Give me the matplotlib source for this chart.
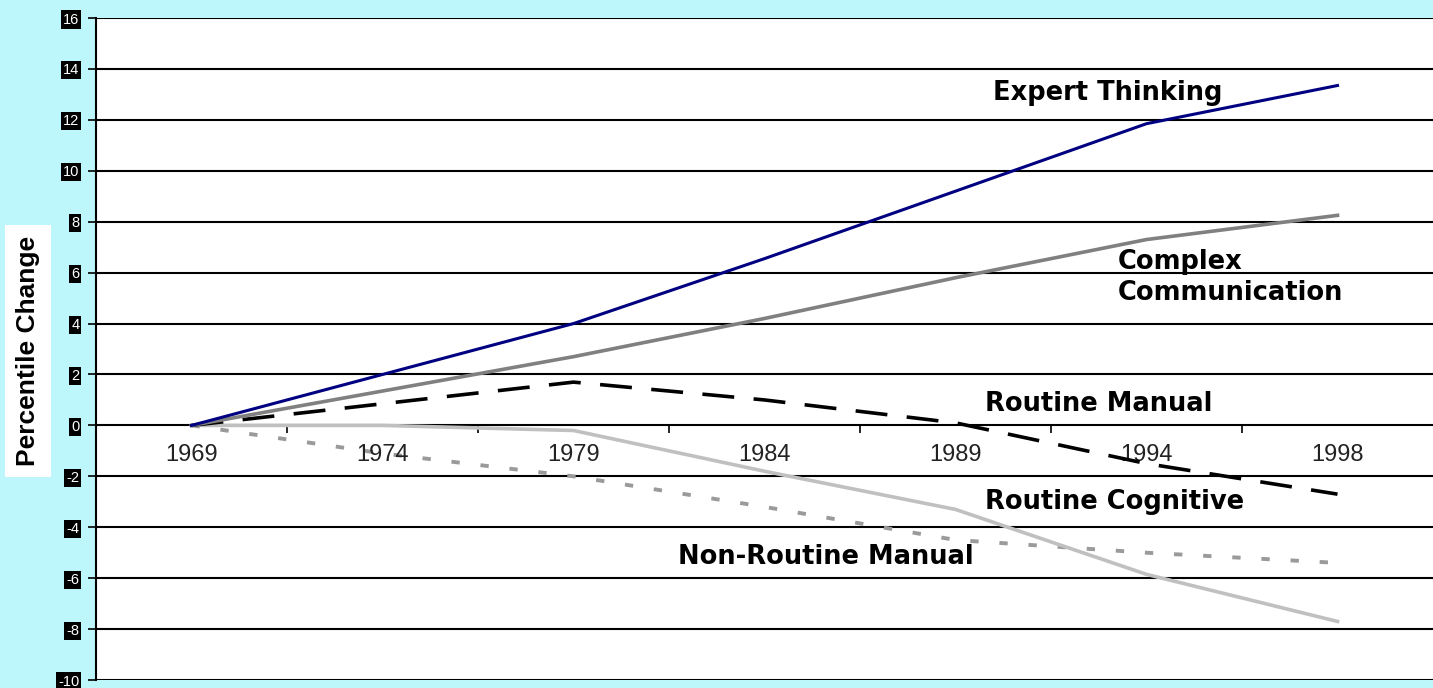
import matplotlib
matplotlib.use("Agg")
import matplotlib.pyplot as plt
from matplotlib.ticker import FixedLocator

plt.rcParams['font.family'] = ['Liberation Sans', 'DejaVu Sans']
plt.rcParams['lines.scale_dashes'] = False

years = ['1969', '1974', '1979', '1984', '1989', '1994', '1998']
expert_thinking = [0, 2.0, 4.0, 6.55, 9.2, 11.85, 13.35]
complex_comm = [0, 1.35, 2.7, 4.2, 5.8, 7.3, 8.25]
routine_manual = [0, 0.85, 1.7, 1.0, 0.1, -1.5, -2.7]
routine_cognitive = [0, 0.0, -0.2, -1.8, -3.3, -5.85, -7.7]
nonroutine_manual = [0, -1.1, -2.0, -3.2, -4.5, -5.0, -5.4]
y_ticks = list(range(-10, 17, 2))

fig = plt.figure(figsize=(14.33, 6.88), dpi=100)
fig.patch.set_facecolor('#BDF7FB')
ax = fig.add_axes([0.067, 0.0116, 0.933, 0.9622])
ax.set_facecolor('white')

x = range(len(years))
ax.plot(x, nonroutine_manual, color='#9a9a9a', lw=2.8, dashes=(6, 15), zorder=3)
ax.plot(x, routine_cognitive, color='#c0c0c0', lw=2.6, zorder=3)
ax.plot(x, routine_manual, color='black', lw=2.6, dashes=(23, 14), zorder=4)
ax.plot(x, complex_comm, color='#808080', lw=2.6, zorder=4)
ax.plot(x, expert_thinking, color='#000080', lw=2.2, zorder=5)

ax.set_xlim(-0.5, len(years) - 0.5)
ax.set_ylim(-10, 16)

# horizontal grid
ax.set_yticks(y_ticks)
ax.set_yticklabels([str(v) for v in y_ticks], fontsize=10.5, color='white')
for lab in ax.get_yticklabels():
    lab.set_bbox(dict(facecolor='black', edgecolor='none', pad=1.5))
ax.tick_params(axis='y', length=6, width=1.2, pad=6, color='black')
ax.grid(axis='y', color='black', lw=1.5, zorder=1)
ax.set_axisbelow(True)

# category axis crossing at zero
ax.spines['bottom'].set_position(('data', 0))
ax.spines['bottom'].set_visible(False)
ax.spines['top'].set_visible(False)
ax.spines['right'].set_visible(False)
ax.spines['left'].set_linewidth(1.5)
ax.set_xticks(list(x))
ax.set_xticklabels([])
ax.xaxis.set_minor_locator(FixedLocator([i + 0.5 for i in range(len(years) - 1)]))
ax.tick_params(axis='x', which='major', length=0)
ax.tick_params(axis='x', which='minor', length=6, width=1.2, direction='out')
for i, yr in enumerate(years):
    ax.text(i, -1.18, yr, ha='center', va='center', fontsize=17, color='#222222')

fig.text(0.0195, 0.49, 'Percentile Change', rotation=90, ha='center', va='center',
         fontsize=19, fontweight='bold',
         bbox=dict(facecolor='white', edgecolor='none', pad=8))

lab_kw = dict(fontsize=18.5, fontweight='bold', color='black', zorder=6,
              family='DejaVu Sans')
ax.text(4.196, 13.04, 'Expert Thinking', va='center', ha='left', **lab_kw)
ax.text(4.85, 5.8, 'Complex\nCommunication', va='center', ha='left', linespacing=1.25, **lab_kw)
ax.text(4.155, 0.86, 'Routine Manual', va='center', ha='left', **lab_kw)
ax.text(4.155, -3.02, 'Routine Cognitive', va='center', ha='left', **lab_kw)
ax.text(2.547, -5.15, 'Non-Routine Manual', va='center', ha='left', **lab_kw)

fig.savefig('out.png', dpi=100, facecolor=fig.get_facecolor())
